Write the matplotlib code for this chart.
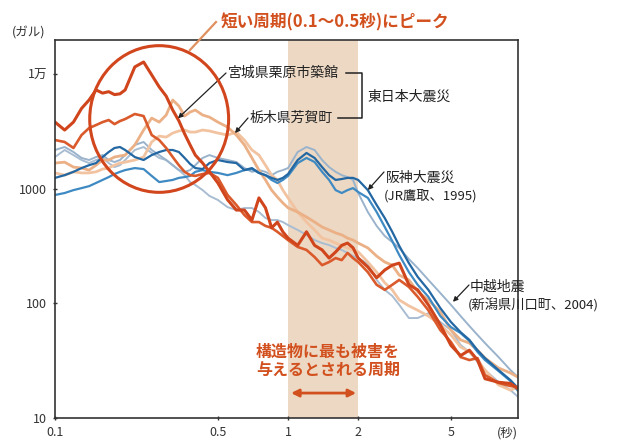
import matplotlib
matplotlib.use("Agg")
import matplotlib.pyplot as plt
from matplotlib.patches import Ellipse
from matplotlib.lines import Line2D

plt.rcParams['font.family'] = ['Noto Sans CJK JP', 'DejaVu Sans']

# response spectra: period (s) vs acceleration (gal)
period = [0.10, 0.11, 0.12, 0.13, 0.14, 0.15, 0.16, 0.17, 0.18, 0.19,
          0.20, 0.22, 0.24, 0.26, 0.28, 0.30, 0.32, 0.34, 0.36, 0.38,
          0.40, 0.43, 0.46, 0.50, 0.55, 0.60, 0.65, 0.70, 0.75, 0.80,
          0.85, 0.90, 0.95, 1.0, 1.1, 1.2, 1.3, 1.4, 1.5, 1.6,
          1.7, 1.8, 1.9, 2.0, 2.2, 2.4, 2.6, 2.8, 3.0, 3.3,
          3.6, 4.0, 4.5, 5.0, 5.5, 6.0, 6.5, 7.0, 8.0, 9.0, 9.7]

# 東日本大震災 宮城県栗原市築館 (2 components)
miyagi_a = [3800, 3240, 3800, 5000, 5920, 7250, 6800, 7000, 6600, 6700,
            7250, 11500, 12700, 9800, 7700, 6400, 4840, 3900, 3000, 2400,
            1960, 1670, 1400, 1120, 800, 650, 650, 532, 830, 680,
            455, 510, 420, 370, 320, 420, 320, 292, 248, 280,
            320, 335, 305, 248, 207, 167, 195, 215, 224, 145,
            131, 97, 65, 43, 35, 39, 32, 22, 20.5, 20, 18]
miyagi_b = [2650, 2550, 2260, 2930, 3370, 3580, 3800, 3960, 3650, 3880,
            4040, 4470, 4290, 2930, 2650, 2260, 1885, 1600, 1400, 1310,
            1290, 1340, 1370, 1240, 880, 720, 588, 511, 511, 473,
            455, 420, 386, 356, 310, 292, 253, 215, 229, 248,
            238, 275, 248, 229, 187, 145, 131, 145, 160, 139,
            114, 87, 58.5, 46, 34, 32, 33.3, 23.7, 20.2, 19, 18.6]

# 東日本大震災 栃木県芳賀町
tochigi_a = [1670, 1700, 1540, 1510, 1450, 1600, 1775, 1775, 1885, 1925,
             1960, 2400, 3240, 4120, 3800, 4380, 5920, 5250, 4290, 4650,
             4840, 4380, 4200, 3800, 3440, 2930, 2400, 1850, 1450, 1190,
             970, 845, 750, 680, 625, 565, 511, 463, 436, 411,
             395, 370, 356, 335, 304, 258, 229, 215, 176, 160,
             126, 107, 84, 58.5, 48, 45, 39, 33.3, 27.3, 24.7, 22.7]
tochigi_b = [1370, 1310, 1400, 1370, 1370, 1400, 1480, 1510, 1600, 1670,
             1700, 1775, 1885, 2550, 2870, 2810, 3050, 3180, 3240, 3110,
             3110, 3240, 3180, 3050, 2930, 3110, 2650, 2170, 1960, 1600,
             1310, 1190, 970, 830, 625, 511, 436, 370, 356, 335,
             317, 304, 292, 281, 229, 187, 151, 131, 107, 95,
             87, 77.5, 65, 53, 41.6, 37.7, 32, 26.2, 19.4, 17.5, 18.6]

# 阪神大震災 JR鷹取 1995
kobe_a = [1240, 1310, 1400, 1510, 1600, 1670, 1885, 2085, 2260, 2305,
          2170, 1885, 1775, 1960, 2085, 2170, 2170, 2085, 1850, 1640,
          1510, 1480, 1670, 1775, 1705, 1670, 1450, 1510, 1370, 1310,
          1240, 1190, 1240, 1340, 1775, 2045, 1850, 1540, 1310, 1190,
          1212, 1240, 1240, 1190, 970, 720, 554, 420, 317, 224,
          170, 131, 91, 68.7, 56, 48, 39, 33.3, 26.2, 21.4, 18.2]
kobe_b = [880, 915, 970, 1010, 1050, 1120, 1190, 1260, 1340, 1400,
          1450, 1510, 1480, 1290, 1140, 1165, 1190, 1240, 1260, 1290,
          1400, 1450, 1400, 1370, 1310, 1370, 1450, 1480, 1370, 1310,
          1190, 1120, 1190, 1290, 1670, 1850, 1705, 1400, 1190, 970,
          915, 970, 1010, 934, 830, 625, 463, 349, 264, 187,
          145, 114, 77.5, 62, 55, 47, 37.7, 32, 25.7, 21, 17.2]

# 中越地震 新潟県川口町 2004
chuetsu_a = [2170, 2305, 2085, 1850, 1775, 1885, 1960, 1775, 1705, 1775,
             1960, 2400, 2550, 2170, 1960, 1775, 1600, 1450, 1400, 1450,
             1600, 1850, 1960, 1850, 1775, 1705, 1510, 1400, 1450, 1400,
             1310, 1400, 1450, 1510, 2085, 2305, 2170, 1775, 1540, 1400,
             1310, 1260, 1190, 915, 625, 473, 386, 342, 304, 243,
             203, 160, 123, 97, 77.5, 63.4, 53, 45, 34, 26.2, 22.7]
chuetsu_b = [1885, 2170, 1960, 1775, 1670, 1775, 1850, 1670, 1540, 1600,
             1775, 2170, 2305, 2045, 1850, 1775, 1600, 1450, 1310, 1140,
             1075, 970, 863, 796, 690, 650, 677, 677, 625, 554,
             532, 532, 511, 481, 436, 395, 356, 335, 322, 304,
             292, 275, 258, 248, 220, 160, 131, 116, 97, 74.4,
             74.4, 82, 68.7, 58.5, 43.3, 37.7, 30.8, 26.2, 20.6, 17.5, 15.3]

W, H = 617, 441


def fp(x, y):
    # pixel position -> figure fraction
    return x / W, 1 - y / H


fig = plt.figure(figsize=(W / 100, H / 100), dpi=100)
ax = fig.add_axes([55 / W, 23 / H, 463 / W, 378 / H])
ax.set_xscale('log')
ax.set_yscale('log')

ax.axvspan(1, 2, color='#EDD8C3', lw=0, zorder=0)

series = [
    (chuetsu_b, '#A9BDD2', 1.4),
    (chuetsu_a, '#9AB3CC', 1.4),
    (tochigi_b, '#F2C3A0', 2.0),
    (tochigi_a, '#EBB085', 2.0),
    (kobe_b, '#3F8AC2', 1.6),
    (kobe_a, '#2367A3', 1.6),
    (miyagi_b, '#DA5A2C', 1.9),
    (miyagi_a, '#D0451C', 2.2),
]
for vals, col, lw in series:
    ax.plot(period, vals, color=col, lw=lw, solid_joinstyle='round')

ax.set_xlim(0.1, 9.7)
ax.set_ylim(10, 19750)
ax.set_xticks([0.1, 0.5, 1, 2, 5])
ax.set_xticklabels(['0.1', '0.5', '1', '2', '5'])
ax.set_yticks([10, 100, 1000, 10000])
ax.set_yticklabels(['10', '100', '1000', '1万'])
ax.minorticks_off()
ax.tick_params(axis='both', labelsize=9, colors='#333333', length=3, width=1,
               direction='inout', pad=4)
for s in ax.spines.values():
    s.set_color('#333333')
    s.set_linewidth(1.2)

# short-period emphasis
ax.add_patch(Ellipse((0.225, 0.791), 0.300, 0.388, transform=ax.transAxes,
                     fill=False, ec='#D2461E', lw=2.2, zorder=5))
fig.add_artist(Line2D([fp(216, 22)[0], fp(190, 50)[0]],
                      [fp(216, 22)[1], fp(190, 50)[1]],
                      color='#E0915F', lw=1.6))
fig.text(*fp(335, 22), '短い周期(0.1～0.5秒)にピーク', color='#D2501E',
         fontsize=12, fontweight='bold', ha='center', va='center')

fig.text(*fp(12, 33), '(ガル)', fontsize=9, color='#333333',
         ha='left', va='center')
fig.text(*fp(497, 433), '(秒)', fontsize=9, color='#333333',
         ha='left', va='center')

lab = dict(fontsize=10, color='#222222', ha='left', va='center')
sub = dict(fontsize=9.5, color='#222222', ha='left', va='center')
arrow = dict(arrowstyle='-|>', color='#222222', lw=0.9, mutation_scale=7,
             shrinkA=0, shrinkB=0)

fig.text(*fp(228, 73), '宮城県栗原市築館', **lab)
ax.annotate('', xy=(0.337, 4100), xytext=fp(226, 73),
            textcoords='figure fraction', arrowprops=arrow)
fig.text(*fp(250, 118), '栃木県芳賀町', **lab)
ax.annotate('', xy=(0.592, 3050), xytext=fp(248, 118),
            textcoords='figure fraction', arrowprops=arrow)

# bracket for the two 2011 records
bx = [fp(346, 73)[0], fp(362, 73)[0], fp(362, 118)[0], fp(338, 118)[0]]
by = [fp(346, 73)[1], fp(362, 73)[1], fp(362, 118)[1], fp(338, 118)[1]]
fig.add_artist(Line2D(bx, by, color='#222222', lw=1.1))
fig.text(*fp(367, 97), '東日本大震災', **lab)

fig.text(*fp(386, 178), '阪神大震災', **lab)
fig.text(*fp(384, 196), '(JR鷹取、1995)', **sub)
ax.annotate('', xy=(2.2, 972), xytext=fp(384, 172),
            textcoords='figure fraction', arrowprops=arrow)

fig.text(*fp(470, 287), '中越地震', **lab)
fig.text(*fp(468, 305), '(新潟県川口町、2004)', **sub)
ax.annotate('', xy=(5.1, 103), xytext=fp(469, 285),
            textcoords='figure fraction', arrowprops=arrow)

fig.text(*fp(328, 352), '構造物に最も被害を', color='#D2501E', fontsize=11.5,
         fontweight='bold', ha='center', va='center')
fig.text(*fp(328, 370), '与えるとされる周期', color='#D2501E', fontsize=11.5,
         fontweight='bold', ha='center', va='center')
ax.annotate('', xy=(1.96, 16.5), xytext=(1.03, 16.5),
            arrowprops=dict(arrowstyle='<|-|>', color='#D2501E', lw=2,
                            mutation_scale=11, shrinkA=0, shrinkB=0))

fig.savefig('out.png', dpi=100)
